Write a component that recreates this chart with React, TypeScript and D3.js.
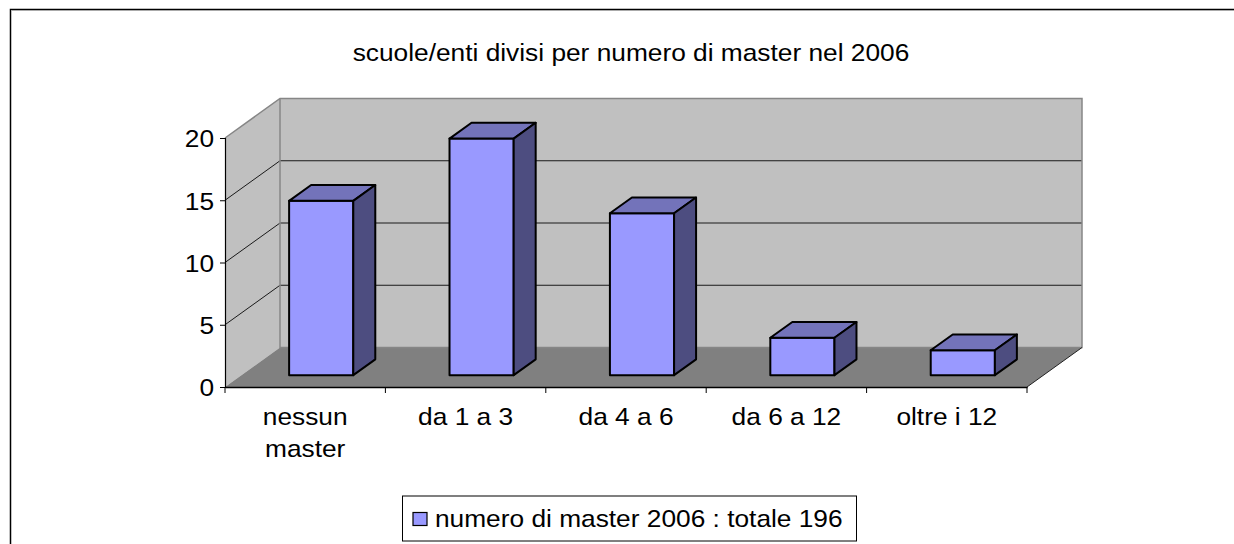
import React, { useEffect, useRef } from 'react';
import * as d3 from 'd3';

const categories = ['nessun master', 'da 1 a 3', 'da 4 a 6', 'da 6 a 12', 'oltre i 12'];
const values = [14, 19, 13, 3, 2];
const yTicks = [0, 5, 10, 15, 20];
const titleText = 'scuole/enti divisi per numero di master nel 2006';
const legendText = 'numero di master 2006 : totale 196';

const FONT = '"Liberation Sans", Arial, sans-serif';
const FONT_SIZE = 24;
// the original text is a bit wider than the font's natural shape
const STRETCH = 1.096;

export default function App() {
  const ref = useRef<SVGSVGElement>(null);

  useEffect(() => {
    const svg = d3.select(ref.current);
    svg.selectAll('*').remove();

    const x = d3.scaleBand().domain(categories).range([225, 1027]);
    const y = d3.scaleLinear().domain([0, 20]).range([387, 138]);
    // depth of the fake 3d box
    const zx = d3.scaleLinear().domain([0, 1]).range([0, 55]);
    const zy = d3.scaleLinear().domain([0, 1]).range([0, -39.5]);
    const poly = (pts: number[][]) => d3.line()(pts as [number, number][]) + 'Z';

    const addText = (g: any, tx: number, ty: number, s: string, anchor = 'start') =>
      g.append('text')
        .attr('transform', `translate(${tx},${ty}) scale(${STRETCH},1)`)
        .attr('text-anchor', anchor)
        .attr('font-family', FONT).attr('font-size', FONT_SIZE).attr('fill', '#000')
        .text(s);

    // chart border, open on the right and bottom
    svg.append('path').attr('d', 'M10.5,544V9.5H1234').attr('fill', 'none').attr('stroke', '#000').attr('stroke-width', 1.5);
    svg.append('line').attr('x1', 11).attr('x2', 1234).attr('y1', 10.5).attr('y2', 10.5)
      .attr('stroke', '#aaa').attr('stroke-width', 1);

    const x0 = x.range()[0], x1 = x.range()[1];
    const y0 = y(0), y20 = y(20);
    const dx = zx(1), dy = zy(1);

    // walls and floor
    svg.append('path').attr('d', poly([[x0, y0], [x0 + dx, y0 + dy], [x0 + dx, y20 + dy], [x0, y20]]))
      .attr('fill', '#c0c0c0');
    svg.append('path').attr('d', poly([[x0 + dx, y0 + dy], [x1 + dx, y0 + dy], [x1 + dx, y20 + dy], [x0 + dx, y20 + dy]]))
      .attr('fill', '#c0c0c0');
    svg.append('path').attr('d', poly([[x0, y0], [x1, y0], [x1 + dx, y0 + dy], [x0 + dx, y0 + dy]]))
      .attr('fill', '#808080');

    // gridlines
    const grid = svg.append('g').attr('fill', 'none').attr('stroke', '#1a1a1a').attr('stroke-width', 1);
    yTicks.slice(1, -1).forEach(t => {
      grid.append('path').attr('d', d3.line()([[x0, y(t)], [x0 + dx, y(t) + dy], [x1 + dx, y(t) + dy]] as [number, number][]));
    });

    // wall edges
    svg.append('path')
      .attr('d', d3.line()([[x0, y20], [x0 + dx, y20 + dy], [x1 + dx, y20 + dy], [x1 + dx, y0 + dy], [x0 + dx, y0 + dy], [x0 + dx, y20 + dy]] as [number, number][]))
      .attr('fill', 'none').attr('stroke', '#868686').attr('stroke-width', 1.5);
    svg.append('line').attr('x1', x1).attr('y1', y0).attr('x2', x1 + dx).attr('y2', y0 + dy)
      .attr('stroke', '#222').attr('stroke-width', 1);

    // axes
    const yAxis = svg.append('g').attr('transform', `translate(${x0},0)`)
      .call(d3.axisLeft(y).tickValues(yTicks).tickSize(5).tickPadding(5));
    const xAxis = svg.append('g').attr('transform', `translate(0,${y0})`)
      .call(d3.axisBottom(x).tickValues([]).tickSize(0));
    xAxis.selectAll('.domain').attr('stroke', '#000').attr('stroke-width', 1.5);
    yAxis.selectAll('.domain').attr('stroke', '#000').attr('stroke-width', 1.2);
    yAxis.selectAll('text')
      .attr('font-family', FONT).attr('font-size', FONT_SIZE).attr('fill', '#000')
      .attr('dy', '0.37em')
      .attr('transform', `scale(${STRETCH},1)`);
    yAxis.selectAll('line').attr('stroke', '#000');

    const edges = categories.map(c => x(c) as number).concat([x1]);
    svg.append('g').selectAll('line').data(edges).join('line')
      .attr('x1', d => d).attr('x2', d => d).attr('y1', y0).attr('y2', y0 + 6)
      .attr('stroke', '#000').attr('stroke-width', 1);

    // category labels
    const labels = svg.append('g');
    categories.forEach(c => {
      const cx = (x(c) as number) + x.bandwidth() / 2;
      const lines = c === 'nessun master' ? c.split(' ') : [c];
      lines.forEach((l, i) => addText(labels, cx, 425 + i * 32, l, 'middle'));
    });

    // bars
    const zFront = 0.3, zBack = 0.7;
    const barW = x.bandwidth() * 0.4;
    const bars = svg.append('g').attr('stroke', '#000').attr('stroke-width', 2).attr('stroke-linejoin', 'round');
    categories.forEach((c, i) => {
      const v = values[i];
      const left = (x(c) as number) + (x.bandwidth() - barW) / 2 + zx(zFront) - 0.5;
      const right = left + barW;
      const base = y(0) + zy(zFront);
      const top = y(v) + zy(zFront);
      const ox = zx(zBack - zFront), oy = zy(zBack - zFront);
      bars.append('path').attr('fill', '#9999ff')
        .attr('d', poly([[left, base], [right, base], [right, top], [left, top]]));
      bars.append('path').attr('fill', '#7373ba')
        .attr('d', poly([[left, top], [right, top], [right + ox, top + oy], [left + ox, top + oy]]));
      bars.append('path').attr('fill', '#4d4d80')
        .attr('d', poly([[right, base], [right + ox, base + oy], [right + ox, top + oy], [right, top]]));
    });

    // title
    addText(svg, 631, 61, titleText, 'middle');

    // legend
    svg.append('rect').attr('x', 402.5).attr('y', 496).attr('width', 454).attr('height', 45)
      .attr('fill', '#fff').attr('stroke', '#000').attr('stroke-width', 1);
    svg.append('rect').attr('x', 413).attr('y', 512.5).attr('width', 14).attr('height', 13)
      .attr('fill', '#9999ff').attr('stroke', '#000').attr('stroke-width', 1.2);
    addText(svg, 435, 527, legendText);
  }, []);

  return <svg ref={ref} width={1234} height={544} style={{ position: 'absolute', left: 0, top: 0 }} />;
}
